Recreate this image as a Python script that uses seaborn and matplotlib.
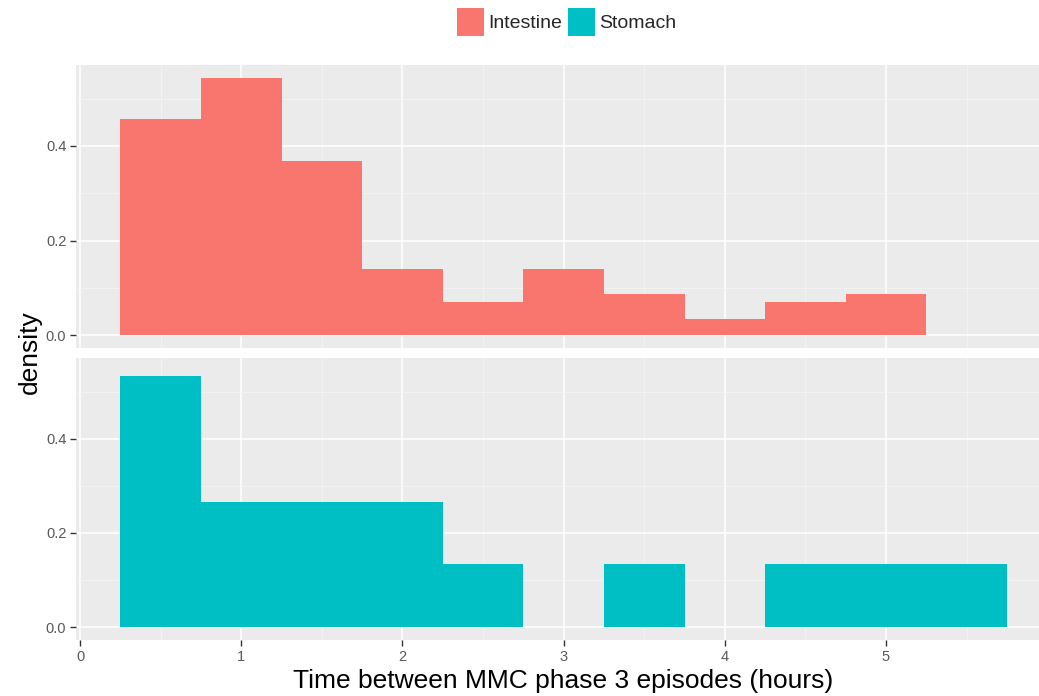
import numpy as np
import pandas as pd
import matplotlib
matplotlib.use("Agg")
import matplotlib.pyplot as plt
from matplotlib.patches import Patch
import seaborn as sns

# Histogram bins (hours) and the number of intervals falling into each bin
bin_centers = [0.5, 1.0, 1.5, 2.0, 2.5, 3.0, 3.5, 4.0, 4.5, 5.0, 5.5]
intestine_counts = [26, 31, 21, 8, 4, 8, 5, 2, 4, 5, 0]
stomach_counts = [4, 2, 2, 2, 1, 0, 1, 0, 1, 1, 1]

organs = ["Intestine", "Stomach"]
organ_colors = ["#F8766D", "#00BFC4"]
x_ticks = [0, 1, 2, 3, 4, 5]
y_ticks = [0.0, 0.2, 0.4]
y_tick_labels = ["0.0", "0.2", "0.4"]

df = pd.DataFrame({
    "time": bin_centers * 2,
    "count": intestine_counts + stomach_counts,
    "organ": ["Intestine"] * len(bin_centers) + ["Stomach"] * len(bin_centers),
})

sns.set_theme(style="darkgrid")
plt.rcParams["font.family"] = ["Liberation Sans", "DejaVu Sans"]

W, H = 1039, 696
fig = plt.figure(figsize=(W / 100, H / 100), dpi=100)

left_px, right_px = 76, 1039
panels_px = [(65, 348), (358, 640)]
axes = []
for (top, bottom) in panels_px:
    ax = fig.add_axes([left_px / W, 1 - bottom / H, (right_px - left_px) / W, (bottom - top) / H])
    axes.append(ax)

xlim = (-0.025, (right_px - 80) / 161.2)
ylim = (-0.0272, 0.5712)

for ax, organ, color in zip(axes, organs, organ_colors):
    sub = df[df["organ"] == organ]
    sns.histplot(data=sub, x="time", weights="count", stat="density",
                 binwidth=0.5, binrange=(0.25, 5.75), color=color,
                 alpha=1, linewidth=0, edgecolor=color, ax=ax)
    ax.set_facecolor("#EBEBEB")
    ax.set_xlim(*xlim)
    ax.set_ylim(*ylim)
    ax.set_xticks(x_ticks)
    ax.set_xticks(np.arange(0.5, 6.0, 1.0), minor=True)
    ax.set_yticks(y_ticks)
    ax.set_yticks([0.1, 0.3, 0.5], minor=True)
    ax.set_yticklabels(y_tick_labels)
    ax.grid(which="major", color="white", linewidth=1.1)
    ax.grid(which="minor", color="#F5F5F5", linewidth=0.55)
    ax.set_axisbelow(True)
    for s in ax.spines.values():
        s.set_visible(False)
    ax.tick_params(axis="y", which="major", left=True, length=4, width=1,
                   color="#333333", labelcolor="#595959", labelsize=10.5, pad=3)
    ax.tick_params(which="minor", length=0)
    ax.set_xlabel("")
    ax.set_ylabel("")

axes[0].tick_params(axis="x", which="major", bottom=False, labelbottom=False)
axes[1].tick_params(axis="x", which="major", bottom=True, length=4, width=1,
                    color="#333333", labelcolor="#595959", labelsize=10.5, pad=3)
axes[1].set_xticklabels([str(t) for t in x_ticks])

fig.text(30 / W, 1 - 352 / H, "density", rotation=90, ha="center", va="center",
         fontsize=19, color="black")
fig.text(563 / W, 1 - 681 / H,
         "Time between MMC phase 3 episodes (hours)",
         ha="center", va="center", fontsize=19, color="black")

handles = [Patch(facecolor=c, edgecolor="none", label=o) for o, c in zip(organs, organ_colors)]
fig.legend(handles=handles, loc="center", bbox_to_anchor=(567 / W, 1 - 22 / H), ncol=2,
           frameon=False, fontsize=14, handlelength=1.35, handleheight=1.8,
           handletextpad=0.25, columnspacing=0.3)

fig.savefig("out.png", dpi=100)
